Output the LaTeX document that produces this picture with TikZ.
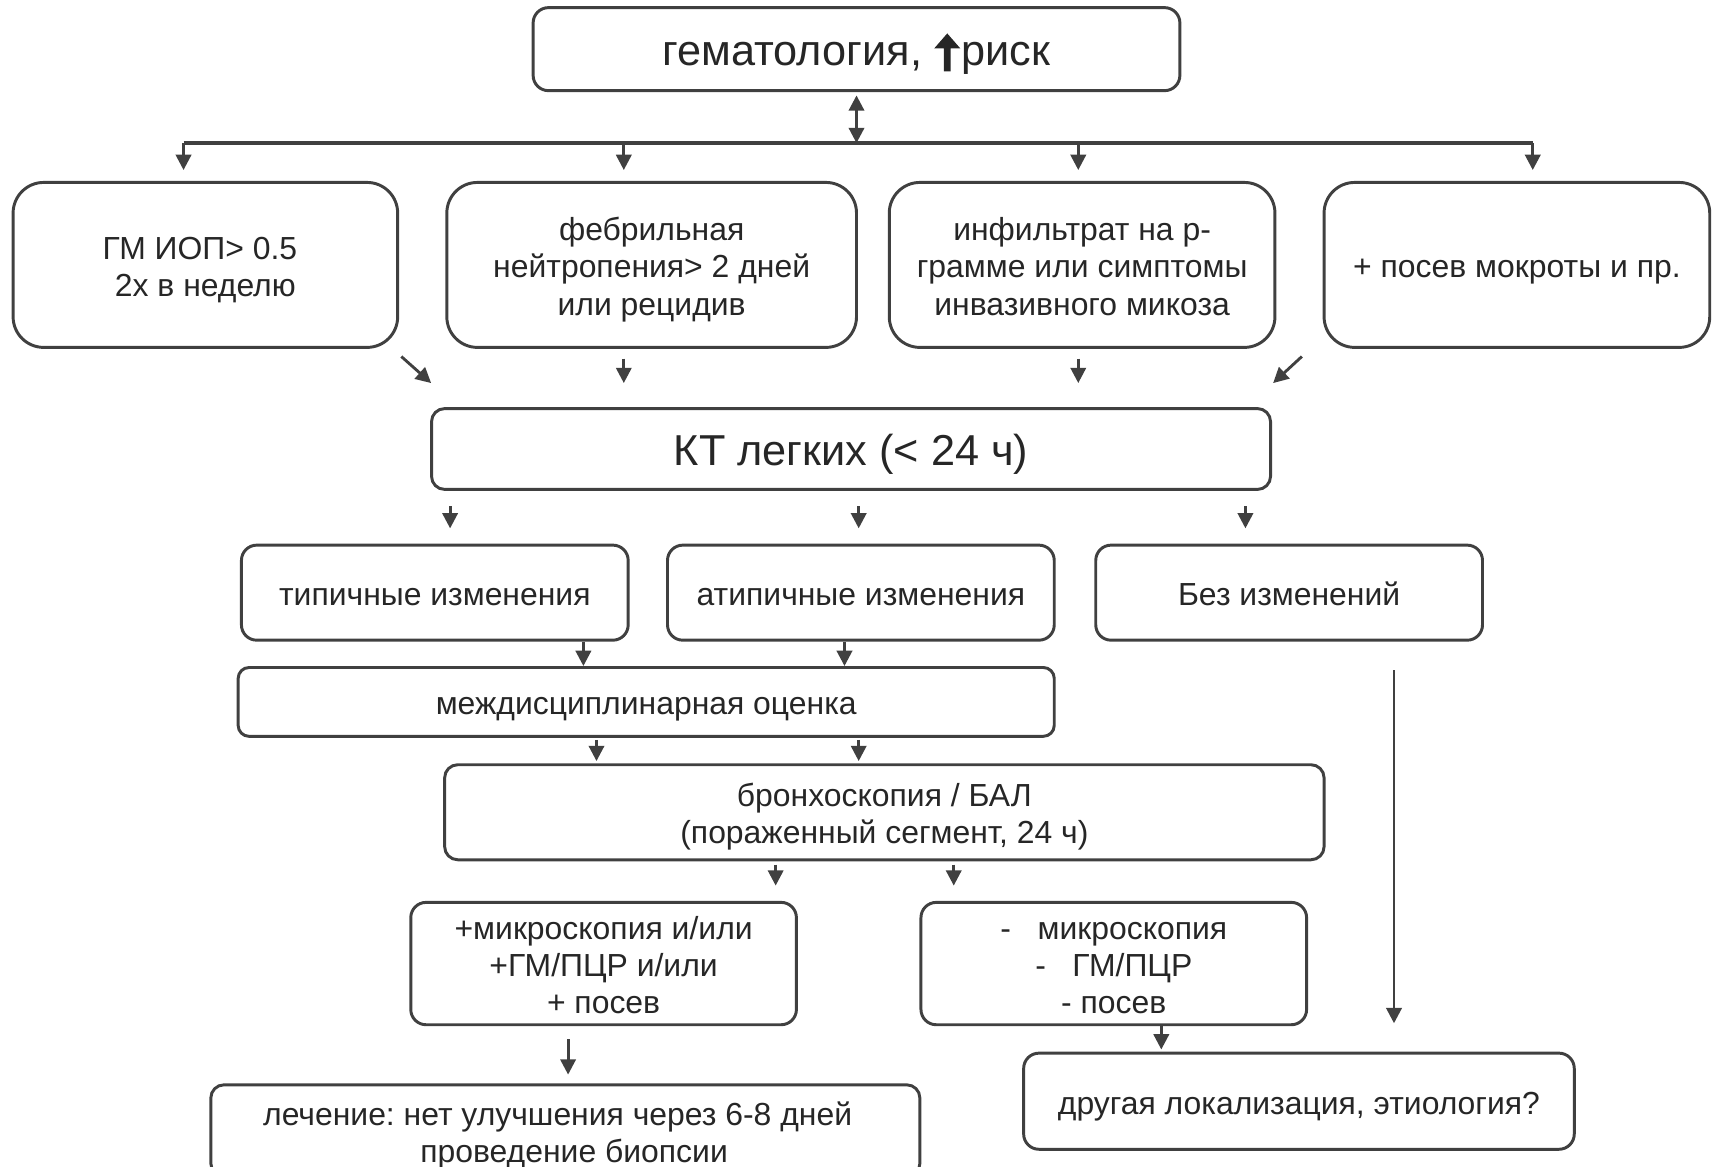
\documentclass[tikz,border=0pt]{standalone}
\usepackage{fontspec}
\setmainfont{Liberation Sans}
\usetikzlibrary{arrows.meta,calc}
\frenchspacing
\definecolor{txt}{HTML}{262626}
\definecolor{brd}{HTML}{404040}
\newcommand\thickup{\tikz[baseline=0pt, sharp corners]\fill[txt] (-1.5pt,-2.7pt) -- (-1.5pt,7.8pt) -- (-6pt,7.8pt) -- (0pt,14.7pt) -- (6pt,7.8pt) -- (1.5pt,7.8pt) -- (1.5pt,-2.7pt) -- cycle;}
\tikzset{
  box/.style={draw=brd, line width=1.35pt, rounded corners=7pt, align=center, text=txt,
    font=\fontsize{14.6}{17}\selectfont, inner sep=0pt,
    execute at begin node={\rule{0pt}{\dimexpr 15pt+17pt*(#1-1)\relax}},
    execute at end node={\rule[-3.1pt]{0pt}{3.1pt}}},
  box/.default=1,
  bigbox/.style={box, font=\fontsize{19.8}{24}\selectfont,
    execute at begin node={\rule{0pt}{19.2pt}},
    execute at end node={\rule[-4.2pt]{0pt}{4.2pt}}},
  arr/.style={draw=brd, line width=1.3pt, -{Triangle[length=7pt,width=7pt]}},
  darr/.style={draw=brd, line width=1.3pt, {Triangle[length=7pt,width=7pt]}-{Triangle[length=7pt,width=7pt]}},
  busline/.style={draw=brd, line width=1.7pt},
}
\begin{document}
\begin{tikzpicture}[x=0.5pt,y=-0.5pt]
\useasboundingbox (0,0) rectangle (1568,1068);
% top
\node[bigbox, minimum width=296pt, minimum height=38pt, rounded corners=7pt] (top) at (784,45)
  {гематология, \thickup\hspace{0.5pt}риск};
% row 2
\node[box=2, rounded corners=14pt, minimum width=176pt, minimum height=75.5pt] (r2a) at (188,242.5)
  {ГМ ИОП> 0.5\kern5pt\\2х в неделю};
\node[box=3, rounded corners=14pt, minimum width=187.5pt, minimum height=75.5pt] (r2b) at (596.5,242.5)
  {фебрильная\\нейтропения> 2 дней\\или рецидив};
\node[box=3, rounded corners=14pt, minimum width=176.5pt, minimum height=75.5pt] (r2c) at (990.5,242.5)
  {инфильтрат на р-\\грамме или симптомы\\инвазивного микоза};
\node[box, rounded corners=14pt, minimum width=176.5pt, minimum height=75.5pt] (r2d) at (1388.5,242.5)
  {+ посев мокроты и пр.};
% KT
\node[bigbox, rounded corners=6pt, minimum width=384pt, minimum height=37pt] (kt) at (779,411)
  {КТ легких (< 24 ч)};
% row 3
\node[box, minimum width=177pt, minimum height=43.5pt] (typ) at (398,542.5) {типичные изменения};
\node[box, minimum width=177pt, minimum height=43.5pt] (atyp) at (788,542.5) {атипичные изменения};
\node[box, minimum width=177pt, minimum height=43.5pt] (bez) at (1180,542.5) {Без изменений};
% mdo
\node[box, rounded corners=5pt, minimum width=373.5pt, minimum height=31.5pt] (mdo) at (591.5,642.5)
  {междисциплинарная оценка};
% bronch
\node[box=2, rounded corners=6pt, minimum width=402.5pt, minimum height=43.5pt] (bron) at (809.5,743.5)
  {бронхоскопия / БАЛ\\(пораженный сегмент, 24 ч)};
% results
\node[box=3, minimum width=176.5pt, minimum height=56pt] (pos) at (552.5,882)
  {+микроскопия и/или\\+ГМ/ПЦР и/или\\+ посев};
\node[box=3, minimum width=176.5pt, minimum height=56pt] (neg) at (1019.5,882)
  {-\ \ \ микроскопия\\-\ \ \ ГМ/ПЦР\\- посев};
% bottom
\node[box=2, rounded corners=6pt, minimum width=324.5pt, minimum height=42pt] (treat) at (517.5,1035)
  {лечение: нет улучшения через 6-8 дней\kern7pt\\\kern8pt проведение биопсии};
\node[box, minimum width=252pt, minimum height=44pt] (other) at (1189,1008)
  {другая локализация, этиология?};

% bus
\coordinate (bus) at (784,131);
\coordinate (busL) at (168,131);
\coordinate (busB) at (571,131);
\coordinate (busC) at (987,131);
\coordinate (busR) at (1403,131);
\draw[busline] (busL) -- (busR);
\draw[darr, shorten <=1.5pt] (top.south) -- (bus);
\draw[arr, shorten >=5pt] (busL) -- (busL |- r2a.north);
\draw[arr, shorten >=5pt] (busB) -- (busB |- r2b.north);
\draw[arr, shorten >=5pt] (busC) -- (busC |- r2c.north);
\draw[arr, shorten >=5pt] (busR) -- (busR |- r2d.north);

% row2 -> KT
\draw[arr] ($(r2a.south east)+(2,7)$) -- ($(kt.north west)+(1,-22)$);
\draw[arr, shorten <=4.5pt, shorten >=11pt] (busB |- r2b.south) -- (busB |- kt.north);
\draw[arr, shorten <=4.5pt, shorten >=11pt] (busC |- r2c.south) -- (busC |- kt.north);
\draw[arr] ($(r2d.south west)+(-19,7)$) -- ($(kt.north east)+(1,-22)$);

% KT -> row3
\draw[arr, shorten <=7pt, shorten >=7pt] ([xshift=-183.5pt]kt.south) -- ([xshift=-183.5pt]kt.south |- typ.north);
\draw[arr, shorten <=7pt, shorten >=7pt] ([xshift=3.5pt]kt.south) -- ([xshift=3.5pt]kt.south |- atyp.north);
\draw[arr, shorten <=7pt, shorten >=7pt] ([xshift=180.5pt]kt.south) -- ([xshift=180.5pt]kt.south |- bez.north);

% row3 -> mdo
\draw[arr] ([xshift=68pt]typ.south) -- ([xshift=68pt]typ.south |- mdo.north);
\draw[arr] ([xshift=-7.5pt]atyp.south) -- ([xshift=-7.5pt]atyp.south |- mdo.north);

% mdo -> bron
\draw[arr, shorten <=1pt, shorten >=1pt] ([xshift=-22.75pt]mdo.south) -- ([xshift=-22.75pt]mdo.south |- bron.north);
\draw[arr, shorten <=1pt, shorten >=1pt] ([xshift=97.25pt]mdo.south) -- ([xshift=97.25pt]mdo.south |- bron.north);

% bez -> other (long)
\draw[arr, shorten <=13pt, shorten >=13pt] ([xshift=48pt]bez.south) -- ([xshift=48pt]bez.south |- other.north);

% bron -> results
\draw[arr, shorten <=1.5pt, shorten >=7pt] ([xshift=-49.75pt]bron.south) -- ([xshift=-49.75pt]bron.south |- pos.north);
\draw[arr, shorten <=1.5pt, shorten >=7pt] ([xshift=31.75pt]bron.south) -- ([xshift=31.75pt]bron.south |- neg.north);

% results -> bottom
\draw[arr, shorten <=6pt, shorten >=4pt] ([xshift=-16.25pt]pos.south) -- ([xshift=-16.25pt]pos.south |- treat.north);
\draw[arr, shorten >=1pt] ([xshift=21.75pt]neg.south) -- ([xshift=21.75pt]neg.south |- other.north);
\end{tikzpicture}
\end{document}
